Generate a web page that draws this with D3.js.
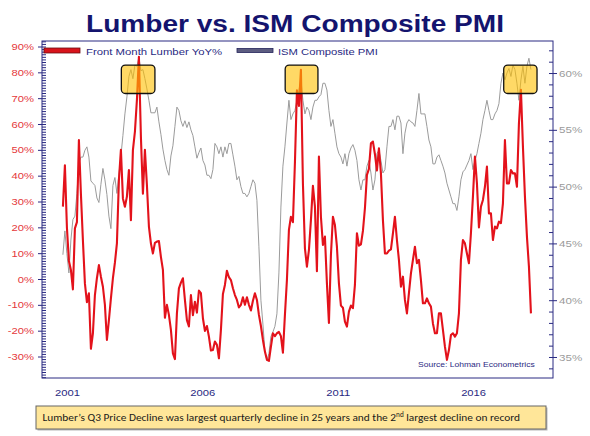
<!DOCTYPE html>
<html><head><meta charset="utf-8">
<script src="https://cdn.jsdelivr.net/npm/d3@7"></script>
<style>body{margin:0;background:#fff}svg{display:block}</style>
</head><body>
<svg id="c" width="590" height="436"></svg>
<script>
const title = "Lumber vs. ISM Composite PMI";
const seriesNames = ["Front Month Lumber YoY%", "ISM Composite PMI"];
const seriesStart = 2001.352;   // decimal year of first observation
const seriesStep = 0.07386;     // years between observations
const lumberYoY = [28,44,20,7,3.5,-4,19.6,22,53.8,33,
15,-1.7,-9,-5.5,-27,-21,-6.2,0.3,5.4,0.9,
-3,-10,-23.6,-15.9,-7.5,0.3,6.3,13.8,38.3,50,
31.2,28,31.9,42.2,22.8,49.9,57,69.3,86,55,
33,50,36.4,20.3,13.8,9.9,14,14.5,14.7,8.6,
3.5,-15,-10,-13.9,-19.7,-28.8,-31,-13.3,-3.6,-1.4,
0.3,-8.1,-15.9,-18.4,-6.2,-14,-8.8,-13,-4.5,-5.5,
-15.2,-20.1,-18.2,-22.3,-27.7,-27.5,
-24.2,-25.5,-30.7,-19.7,-5.8,-2.3,3.2,0.7,-0.4,-3.6,
-6.2,-8.1,-11,-10,-7.1,-10,-7.1,-10,-12.2,-8.4,
-5.5,-8.1,-13.9,-18.2,-23.6,-28.1,-31.3,-31.7,-26.2,-21,
-22.1,-21,-20.5,-22.1,-28.5,-13.9,-0.4,19,24.1,22,
45,73,67,81,37,11.9,4.8,11.2,22.8,36.1,
28,3,47.4,24.1,13.2,16.4,-1.7,-17,9.3,24.1,
20.9,12.5,-1.7,-10.3,-11.1,-16.5,-18.4,-12.6,-10.3,-11.3,
-2.3,17.7,12.9,13.4,18.6,27.4,40.3,42.6,52.5,53.2,
48.3,42,50.6,40.9,22.8,
9.9,9.9,11,11.5,17.7,24.1,15.1,7.4,-3,0.9,
-8.1,-13.3,-5.5,2.2,7.4,12.5,6.1,7.4,-0.4,-9.4,
-9.4,-7.5,-9.4,-10.7,-17.2,-21,-21,-13.3,-13.3,-19.7,
-26.2,-31.3,-27.5,-21.7,-21,-22.3,-21,-13.3,7.4,15.1,
13.8,9.9,6.1,17.7,31.9,47.4,37,20,28,30.6,
35.7,43.5,25.4,25.4,15.1,20.3,19.6,22.2,21.6,29.3,
53.8,37,37,42.2,40.9,40.9,35.7,60.3,73.2,51.2,
31.9,16.4,4.8,-13.3];
const ismComposite = [44.0,46.1,44.1,42.4,45.3,47.1,47.4,49.4,52.1,52.6,
52.6,53.2,53.5,52.6,50.5,50.3,50.1,49.0,48.6,50.2,
51.6,50.6,49.3,47.4,46.3,50.1,50.8,49.4,51.1,52.7,
54.5,56.4,57.9,59.7,60.3,59.5,60.7,60.6,61.4,60.2,
60.3,59.5,58.6,57.6,56.5,56.5,56.5,57.0,55.7,54.6,
53.3,52.3,51.5,51.0,52.7,53.6,55.3,57.0,56.7,55.8,
55.3,55.8,55.2,55.7,55.0,54.5,53.5,52.5,53.0,53.4,
52.3,51.9,51.0,51.0,50.7,51.5,
53.8,53.5,52.9,53.5,52.6,53.5,52.9,53.8,53.8,52.8,
51.8,50.6,50.9,50.0,49.4,49.4,49.1,49.4,50.0,50.6,
50.3,48.8,44.7,40.0,37.9,35.5,34.7,35.3,36.8,37.2,
37.7,38.8,42.4,48.2,51.8,53.5,55.6,57.6,55.9,56.4,
56.7,57.6,58.5,59.4,57.6,56.4,57.0,56.7,55.9,57.0,
57.6,57.6,57.9,58.1,59.1,59.1,58.5,56.7,55.3,55.9,
54.7,53.5,52.9,52.6,52.0,52.9,51.8,52.9,53.4,53.7,
53.2,52.3,50.6,49.7,50.6,50.6,51.8,52.3,51.2,49.7,
50.6,52.9,53.2,52.3,51.2,
51.5,53.5,55.3,55.3,55.9,55.0,56.2,56.2,55.6,52.9,
54.7,55.6,55.9,55.7,55.6,55.3,56.7,58.2,56.4,56.4,
56.4,55.3,54.1,53.5,52.0,52.0,52.6,52.8,52.3,51.8,
51.2,50.3,49.7,49.1,48.5,48.5,47.9,49.1,50.6,51.3,
51.5,51.9,52.3,52.9,51.5,52.3,52.9,53.8,54.7,55.9,
56.7,57.6,56.7,55.9,55.9,56.4,56.7,57.3,59.1,60.0,
59.4,60.0,60.4,59.7,60.7,60.3,59.1,57.6,59.4,60.6,
59.1,60.6,61.3,60.3];
const yearLabels = [2001, 2006, 2011, 2016];
const leftTicks = [90,80,70,60,50,40,30,20,10,0,-10,-20,-30];
const rightTicks = [60,55,50,45,40,35];
const highlightPeriods = [[2003.51,2004.75],[2009.56,2010.77],[2017.63,2018.86]];
const highlightPmiRange = [58.2,60.7];
const sourceText = "Source: Lohman Econometrics";
const noteParts = ["Lumber\u2019s Q3 Price Decline was largest quarterly decline in 25 years and the 2","nd"," largest decline on record"];

const SX = 1.17;
const FONT = "'Liberation Sans', Arial, sans-serif";
const NAVY = "#2a2a82";
const svg = d3.select("#c");
const L = 42, R = 553, T = 41, B = 378;

const x = d3.scaleLinear().domain([2000.58, 2019.45]).range([L, R]);
const yL = d3.scaleLinear().domain([-38.32, 92.13]).range([B, T]);
const yR = d3.scaleLinear().domain([33.15, 62.82]).range([B, T]);

const lumber = lumberYoY.map((v,i)=>({t: seriesStart + i*seriesStep, v}));
const ism = ismComposite.map((v,i)=>({t: seriesStart + i*seriesStep, v}));

function stext(x0, y0, str, size, color, opts={}) {
  const t = svg.append("text")
    .attr("transform", `translate(${x0},${y0}) scale(${SX},1)`)
    .attr("font-family", FONT).attr("font-size", size).attr("fill", color)
    .attr("text-anchor", opts.anchor || "start");
  if (opts.bold) t.attr("font-weight", "bold");
  t.text(str);
  return t;
}

// title
stext(295, 32, title, 24, "#14146e", {anchor:"middle", bold:true});

// plot background
svg.append("rect").attr("x", L).attr("y", T).attr("width", R-L).attr("height", B-T).attr("fill", "#fff");

// series
svg.append("path").datum(ism)
  .attr("d", d3.line().x(d=>x(d.t)).y(d=>yR(d.v)))
  .attr("fill","none").attr("stroke","#9b9b9b").attr("stroke-width",1);
svg.append("path").datum(lumber)
  .attr("d", d3.line().x(d=>x(d.t)).y(d=>yL(d.v)))
  .attr("fill","none").attr("stroke","#e3121b").attr("stroke-width",2.1).attr("stroke-linejoin","round");

// highlight boxes
svg.selectAll("rect.hl").data(highlightPeriods).join("rect").attr("class","hl")
  .attr("x", d=>x(d[0])).attr("width", d=>x(d[1])-x(d[0]))
  .attr("y", yR(highlightPmiRange[1])).attr("height", yR(highlightPmiRange[0])-yR(highlightPmiRange[1]))
  .attr("rx", 4).attr("fill","#ffc000").attr("fill-opacity",0.6)
  .attr("stroke","#111").attr("stroke-width",1.3);

// axes
function styleAxis(g) {
  g.select(".domain").remove();
  g.selectAll("line").attr("stroke", NAVY);
}
const gLminor = svg.append("g").attr("transform",`translate(${L},0)`)
  .call(d3.axisRight(yL).tickValues(d3.range(-38, 93, 1)).tickSize(4).tickFormat(""));
styleAxis(gLminor);
const gL = svg.append("g").attr("transform",`translate(${L},0)`)
  .call(d3.axisLeft(yL).tickValues(leftTicks).tickSize(4).tickPadding(2.8).tickFormat(d=>d+"%"));
styleAxis(gL);
gL.selectAll("text").attr("font-family",FONT).attr("font-size",9.6).attr("fill","#e5383b")
  .attr("transform",`scale(${SX},1)`);

const gRminor = svg.append("g").attr("transform",`translate(${R},0)`)
  .call(d3.axisLeft(yR).tickValues(d3.range(34, 63, 1)).tickSize(4).tickFormat(""));
styleAxis(gRminor);
const gR = svg.append("g").attr("transform",`translate(${R},0)`)
  .call(d3.axisRight(yR).tickValues(rightTicks).tickSize(4).tickPadding(1.2).tickFormat(d=>d+"%"));
styleAxis(gR);
gR.selectAll("text").attr("font-family",FONT).attr("font-size",9.9).attr("fill","#9a9a9a")
  .attr("transform",`scale(${SX},1)`);

const gB = svg.append("g").attr("transform",`translate(0,${B})`)
  .call(d3.axisBottom(x).tickValues(yearLabels.map(y=>y+0.5)).tickSize(0).tickPadding(11).tickFormat(d=>String(Math.floor(d))));
styleAxis(gB);
gB.selectAll("text").attr("font-family",FONT).attr("font-size",9.6).attr("fill",NAVY)
  .attr("transform",`scale(${SX},1)`);

// frame
svg.append("rect").attr("x",L).attr("y",T).attr("width",R-L).attr("height",B-T)
  .attr("fill","none").attr("stroke",NAVY).attr("stroke-width",1);

// legend
svg.append("rect").attr("x",44).attr("y",48).attr("width",36).attr("height",5)
  .attr("fill","#d8131b").attr("stroke","#6b0d12").attr("stroke-width",0.8);
stext(86, 54.5, seriesNames[0], 9.7, NAVY);
svg.append("rect").attr("x",237).attr("y",48.5).attr("width",36).attr("height",4)
  .attr("fill","#5c5c80").attr("stroke","#23235a").attr("stroke-width",0.8);
stext(278, 54.5, seriesNames[1], 9.6, NAVY);

// source
stext(418, 367, sourceText, 7.3, NAVY);

// note box (with slight shadow)
svg.append("rect").attr("x",37.5).attr("y",407.5).attr("width",510).attr("height",23)
  .attr("fill","#b8b8b8");
svg.append("rect").attr("x",36).attr("y",406).attr("width",510).attr("height",23)
  .attr("fill","#ffe699").attr("stroke","#666").attr("stroke-width",1);
const nt = svg.append("text").attr("x",42.5).attr("y",421.5)
  .attr("font-family","Carlito, 'Open Sans', 'Noto Sans', sans-serif").attr("font-size",11).attr("fill","#1a1a1a");
nt.append("tspan").text(noteParts[0]);
nt.append("tspan").attr("font-size",7).attr("dy",-4).text(noteParts[1]);
nt.append("tspan").attr("dy",4).text(noteParts[2]);
const w = nt.node().getComputedTextLength();
nt.attr("transform", `translate(42.5,0) scale(${478/w},1) translate(-42.5,0)`);
</script>
</body></html>
